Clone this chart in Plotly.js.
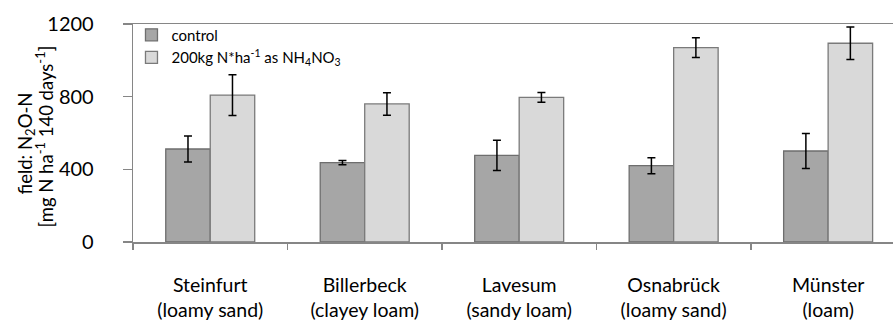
<!DOCTYPE html>
<html>
<head>
<meta charset="utf-8">
<script src="https://cdn.plot.ly/plotly-3.0.1.min.js"></script>
<style>html,body{margin:0;padding:0;background:#fff;}#chart{width:893px;height:320px;}</style>
</head>
<body>
<div id="chart"></div>
<script>
const sites = ["Steinfurt<br>(loamy sand)", "Billerbeck<br>(clayey loam)", "Lavesum<br>(sandy loam)", "Osnabrück<br>(loamy sand)", "Münster<br>(loam)"];
const controlValues = [512, 437, 477, 420, 501];
const controlErrors = [72, 12, 83, 44, 96];
const fertValues = [809, 760, 796, 1070, 1094];
const fertErrors = [112, 62, 27, 55, 90];
const seriesNames = ["control", "200kg N*ha<sup>-1</sup> as NH<sub>4</sub>NO<sub>3</sub>"];
const yTicks = [0, 400, 800, 1200];
const yTitleLines = ["field: N<sub>2</sub>O-N", "[mg N ha<sup>-1</sup> 140 days<sup>-1</sup>]"];

const axisGray = '#868686';
const traces = [
  {
    type: 'bar', name: seriesNames[0], x: sites, y: controlValues,
    marker: {color: '#a6a6a6', line: {color: '#6e6e6e', width: 1.3}},
    error_y: {type: 'data', array: controlErrors, visible: true, color: '#000', thickness: 1.5, width: 4}
  },
  {
    type: 'bar', name: seriesNames[1], x: sites, y: fertValues,
    marker: {color: '#d9d9d9', line: {color: '#7a7a7a', width: 1.3}},
    error_y: {type: 'data', array: fertErrors, visible: true, color: '#000', thickness: 1.5, width: 4}
  }
];

const layout = {
  width: 893, height: 320,
  margin: {l: 133, r: 0, t: 24, b: 78, pad: 0},
  paper_bgcolor: '#fff', plot_bgcolor: '#fff',
  font: {family: 'Lato, "Open Sans", sans-serif', color: '#000', size: 19.5},
  barmode: 'group', bargap: 0.424, bargroupgap: 0,
  showlegend: true,
  legend: {x: -0.002, xanchor: 'left', y: 1.025, yanchor: 'top', bgcolor: 'rgba(0,0,0,0)',
           font: {size: 15}, tracegroupgap: 0, itemwidth: 30, traceorder: 'normal'},
  xaxis: {
    type: 'category', range: [-0.5, 4.42], tickson: 'boundaries',
    ticks: 'outside', ticklen: 6, tickcolor: axisGray, tickwidth: 1.3,
    showline: true, linecolor: axisGray, linewidth: 1.5, mirror: true,
    showgrid: false, zeroline: false, tickfont: {size: 19.5}, ticklabelstandoff: 25,
    fixedrange: true
  },
  yaxis: {
    range: [0, 1200], tickvals: yTicks, ticktext: yTicks.map(String),
    ticks: 'outside', ticklen: 9, tickcolor: axisGray, tickwidth: 1.3,
    showline: true, linecolor: axisGray, linewidth: 1.3,
    showgrid: false, zeroline: false, tickfont: {size: 20}, ticklabelstandoff: 25,
    fixedrange: true
  },
  annotations: [
    {text: yTitleLines[0], xref: 'paper', yref: 'paper', x: (26 - 133) / 760, y: 0.452,
     xanchor: 'center', yanchor: 'middle', textangle: -90, showarrow: false, font: {size: 18.5}},
    {text: yTitleLines[1], xref: 'paper', yref: 'paper', x: (45 - 133) / 760, y: 0.484,
     xanchor: 'center', yanchor: 'middle', textangle: -90, showarrow: false, font: {size: 18.5}}
  ]
};

Plotly.newPlot('chart', traces, layout, {displayModeBar: false, staticPlot: true});
</script>
</body>
</html>
